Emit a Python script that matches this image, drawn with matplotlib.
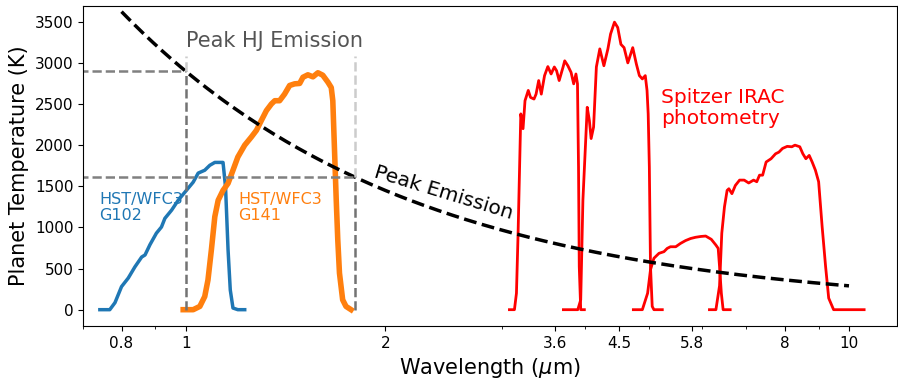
import numpy as np
import matplotlib
matplotlib.use("Agg")
import matplotlib.pyplot as plt
from matplotlib.ticker import FixedLocator, NullFormatter

# HST/WFC3 G102 throughput, scaled to the temperature axis
g102_wl = [0.742, 0.768, 0.782, 0.800, 0.819, 0.838, 0.858, 0.868, 0.883, 0.903, 0.919, 0.930,
           0.952, 0.974, 1.002, 1.026, 1.044, 1.068, 1.087, 1.106, 1.132, 1.138, 1.148, 1.158,
           1.167, 1.178, 1.198, 1.227]
g102_t = [0, 0, 85, 280, 385, 520, 640, 665, 790, 930, 1005, 1110,
          1210, 1330, 1450, 1550, 1660, 1695, 1755, 1790, 1790, 1790, 1490, 730,
          240, 20, 0, 0]

# HST/WFC3 G141
g141_wl = [0.991, 1.026, 1.050, 1.068, 1.080, 1.093, 1.106, 1.119, 1.138, 1.158, 1.178, 1.198,
           1.227, 1.256, 1.278, 1.300, 1.323, 1.346, 1.362, 1.385, 1.409, 1.434, 1.459, 1.485,
           1.502, 1.528, 1.555, 1.582, 1.609, 1.638, 1.657, 1.666, 1.676, 1.686, 1.695, 1.705,
           1.724, 1.744, 1.775]
g141_t = [0, 0, 40, 160, 360, 730, 1130, 1330, 1450, 1535, 1695, 1855,
          2000, 2100, 2180, 2300, 2420, 2500, 2540, 2540, 2620, 2725, 2745, 2750,
          2825, 2855, 2830, 2880, 2850, 2765, 2700, 2540, 1935, 1330, 850, 445,
          120, 40, 0]

# Spitzer IRAC channels
ch1_wl = [3.076, 3.130, 3.152, 3.170, 3.200, 3.225, 3.247, 3.284, 3.310, 3.350, 3.374, 3.405,
          3.436, 3.475, 3.515, 3.555, 3.595, 3.623, 3.656, 3.706, 3.727, 3.768, 3.810, 3.845,
          3.875, 3.896, 3.910, 3.920, 3.940, 3.990]
ch1_t = [0, 0, 200, 930, 2380, 2200, 2540, 2665, 2580, 2560, 2620, 2785,
         2620, 2845, 2955, 2865, 2950, 2905, 2785, 2950, 3025, 2965, 2885, 2745,
         2865, 2745, 1735, 525, 0, 0]

ch2_wl = [3.71, 3.90, 3.94, 3.97, 4.03, 4.06, 4.085, 4.12, 4.16, 4.21, 4.27, 4.33,
          4.37, 4.43, 4.48, 4.53, 4.58, 4.64, 4.72, 4.78, 4.83, 4.88, 4.93, 4.96,
          4.98, 5.00, 5.02, 5.05, 5.08, 5.23]
ch2_t = [0, 0, 120, 1330, 2460, 2300, 2080, 2220, 2950, 3170, 2965, 3170,
         3350, 3495, 3430, 3225, 3185, 3000, 3185, 2985, 2845, 2805, 2845, 2665,
         2380, 1735, 525, 40, 0, 0]

ch3_wl = [4.73, 4.88, 4.97, 5.02, 5.08, 5.17, 5.26, 5.32, 5.38, 5.48, 5.57, 5.67,
          5.77, 5.87, 5.98, 6.08, 6.20, 6.30, 6.35, 6.38, 6.42, 6.46, 6.62]
ch3_t = [0, 0, 200, 485, 625, 685, 705, 745, 765, 765, 805, 840,
         865, 880, 890, 895, 855, 785, 745, 525, 200, 0, 0]

ch4_wl = [6.16, 6.30, 6.38, 6.43, 6.49, 6.55, 6.59, 6.66, 6.74, 6.84, 6.95, 7.06,
          7.18, 7.26, 7.33, 7.41, 7.50, 7.63, 7.75, 7.84, 7.94, 8.07, 8.20, 8.29,
          8.43, 8.52, 8.61, 8.71, 8.80, 8.90, 9.00, 9.11, 9.22, 9.32, 9.48, 10.54]
ch4_t = [0, 0, 290, 930, 1250, 1450, 1470, 1410, 1510, 1575, 1575, 1540,
         1575, 1555, 1635, 1635, 1795, 1835, 1895, 1915, 1960, 1985, 1980, 2000,
         1980, 1895, 1835, 1875, 1795, 1695, 1555, 1010, 525, 140, 0, 0]

# Wien peak emission curve
wien_b = 2898.0  # um K
wien_wl = np.linspace(0.8, 10, 300)
wien_t = wien_b / wien_wl

# HJ emission window
hj_lo, hj_hi = 1.0, 1.8

x_ticks = [0.8, 1, 2, 3.6, 4.5, 5.8, 8, 10]
x_ticklabels = ["0.8", "1", "2", "3.6", "4.5", "5.8", "8", "10"]
y_ticks = [0, 500, 1000, 1500, 2000, 2500, 3000, 3500]

fig = plt.figure(figsize=(8.98, 3.81), dpi=100)
ax = fig.add_axes([0.0925, 0.144, 0.906, 0.84])

ax.plot(g102_wl, g102_t, color="#1f77b4", lw=2.5)
ax.plot(g141_wl, g141_t, color="#ff7f0e", lw=4)
for wl, t in [(ch1_wl, ch1_t), (ch2_wl, ch2_t), (ch3_wl, ch3_t), (ch4_wl, ch4_t)]:
    ax.plot(wl, t, color="red", lw=2)

ax.plot(wien_wl, wien_t, "k--", lw=2.5)

# peak temperature guides
t_lo = wien_b / hj_lo
t_hi = wien_b / hj_hi
ax.plot([0.6, hj_lo], [t_lo, t_lo], "--", color="0.5", lw=1.8)
ax.plot([0.6, hj_hi], [t_hi, t_hi], "--", color="0.5", lw=1.8)
ax.plot([hj_lo, hj_lo], [0, t_lo], "--", color="0.45", lw=1.8)
ax.plot([hj_hi, hj_hi], [0, t_hi], "--", color="0.45", lw=1.8)
ax.plot([hj_lo, hj_lo], [t_lo, 3080], "--", color="0.8", lw=1.8)
ax.plot([hj_hi, hj_hi], [t_hi, 3080], "--", color="0.8", lw=1.8)

ax.text(1.0, 3270, "Peak HJ Emission", color="0.33", fontsize=15, va="center")
ax.text(2.445, 1416, "Peak Emission", color="black", fontsize=14.5, rotation=-17,
        ha="center", va="center")
ax.text(0.74, 1245, "HST/WFC3\nG102", color="#1f77b4", fontsize=11.5, va="center",
        linespacing=1.1)
ax.text(1.20, 1245, "HST/WFC3\nG141", color="#ff7f0e", fontsize=11.5, va="center",
        linespacing=1.1)
ax.text(5.21, 2450, "Spitzer IRAC\nphotometry", color="red", fontsize=14.5, va="center",
        linespacing=1.12)

ax.set_xscale("log")
ax.set_xlim(0.7, 11.8)
ax.set_ylim(-200, 3690)
ax.xaxis.set_major_locator(FixedLocator(x_ticks))
ax.set_xticklabels(x_ticklabels)
ax.xaxis.set_minor_formatter(NullFormatter())
ax.set_yticks(y_ticks)
ax.tick_params(labelsize=11)
ax.set_xlabel("Wavelength ($\\mu$m)", fontsize=15)
ax.set_ylabel("Planet Temperature (K)", fontsize=15)

fig.savefig("out.png", dpi=100)
